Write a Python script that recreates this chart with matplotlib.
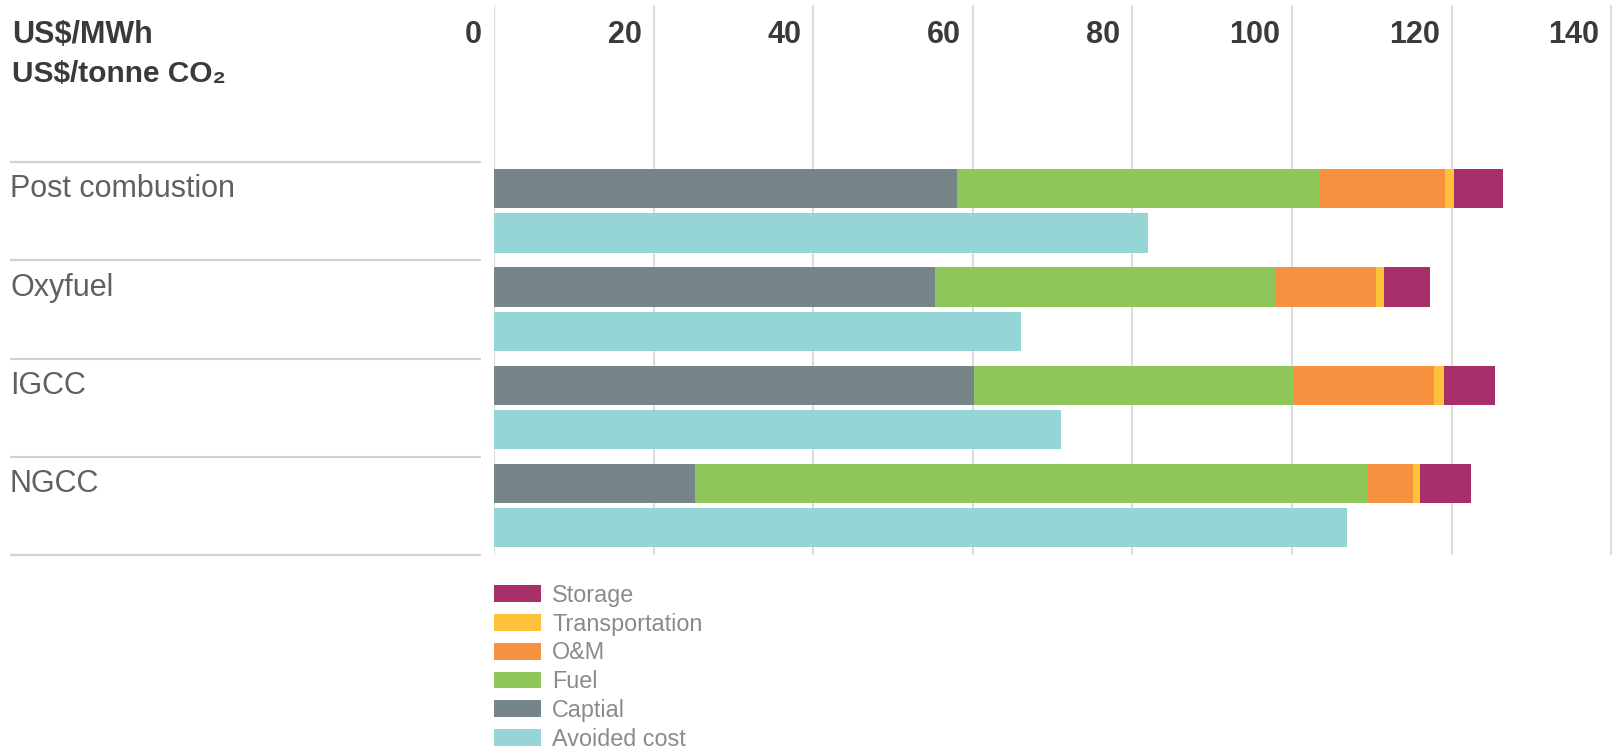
import matplotlib
matplotlib.use("Agg")
import matplotlib.pyplot as plt
import matplotlib.transforms as mtransforms
from matplotlib.patches import Patch
import numpy as np

# ---- data -------------------------------------------------------------
categories = ["Post combustion", "Oxyfuel", "IGCC", "NGCC"]

capital = [58.0, 55.3, 60.1, 25.2]
fuel = [45.5, 42.6, 40.1, 84.3]
om = [15.7, 12.6, 17.6, 5.7]
transportation = [1.1, 1.0, 1.3, 0.8]
storage = [6.1, 5.8, 6.4, 6.4]
avoided_cost = [82.0, 66.0, 71.0, 106.9]

tick_values = [0, 20, 40, 60, 80, 100, 120, 140]
tick_labels = ["0", "20", "40", "60", "80", "100", "120", "140"]

unit_lines = ["US$/MWh", "US$/tonne CO\u2082"]

# ---- style ------------------------------------------------------------
colors = {
    "Storage": "#a8306a",
    "Transportation": "#fdc13a",
    "O&M": "#f5913f",
    "Fuel": "#8fc65a",
    "Captial": "#758589",
    "Avoided cost": "#95d5d6",
}
grid_color = "#dcdcdc"
sep_color = "#d2d2d2"
bold_font = ["Liberation Sans", "DejaVu Sans"]
light_font = ["Liberation Sans", "DejaVu Sans"]

W, H = 1612, 753
fig = plt.figure(figsize=(W / 100, H / 100), dpi=100)
fig.patch.set_facecolor("white")

ax_left, ax_top, ax_bottom = 494, 5, 555
ax = fig.add_axes([ax_left / W, 1 - ax_bottom / H, (W - ax_left) / W,
                   (ax_bottom - ax_top) / H])

# vertical layout in "group" units: group i spans [i, i+1]
pitch_px = 98.25
ax.set_ylim(4.0, (ax_top - 162) / pitch_px)
ax.set_xlim(0, (W - ax_left) / 7.98)

bar_h = 0.40
pos_stack = np.arange(len(categories)) + 0.272
pos_avoid = np.arange(len(categories)) + 0.722

left = np.zeros(len(categories))
for name, vals in [("Captial", capital), ("Fuel", fuel), ("O&M", om),
                   ("Transportation", transportation), ("Storage", storage)]:
    ax.barh(pos_stack, vals, left=left, height=bar_h, color=colors[name],
            edgecolor="none", zorder=3)
    left = left + np.array(vals)
ax.barh(pos_avoid, avoided_cost, height=bar_h, color=colors["Avoided cost"],
        edgecolor="none", zorder=3)

# grid and axis styling
ax.set_xticks(tick_values)
ax.set_xticklabels([])
ax.set_yticks([])
ax.tick_params(axis="x", length=0)
ax.grid(axis="x", color=grid_color, linewidth=1.5, zorder=0)
for s in ax.spines.values():
    s.set_visible(False)
ax.set_facecolor("none")

for t, lab in zip(tick_values, tick_labels):
    ax.annotate(lab, xy=(t, 1), xycoords=("data", "axes fraction"),
                xytext=(-12, -38), textcoords="offset pixels",
                ha="right", va="baseline", fontsize=22, fontweight="bold",
                color="#3a3a3a", family=bold_font, annotation_clip=False)

# category separators and labels on the left
blend = mtransforms.blended_transform_factory(fig.transFigure, ax.transData)
for i in range(len(categories) + 1):
    ax.plot([10 / W, 481 / W], [i, i], transform=blend, color=sep_color,
            linewidth=1.6, clip_on=False, solid_capstyle="butt")
for i, cat in enumerate(categories):
    ax.text(10 / W, i + 0.361, cat, transform=blend, ha="left",
            va="baseline", fontsize=22, color="#606060", family=light_font)

# unit header
fig.text(12 / W, 1 - 43.3 / H, unit_lines[0], ha="left", va="baseline",
         fontsize=22, fontweight="bold", color="#3a3a3a", family=bold_font)
fig.text(12 / W, 1 - 81.7 / H, unit_lines[1], ha="left", va="baseline",
         fontsize=21.5, fontweight="bold", color="#3a3a3a", family=bold_font)

# legend
legend_order = ["Storage", "Transportation", "O&M", "Fuel", "Captial",
                "Avoided cost"]
handles = [Patch(facecolor=colors[n], edgecolor="none") for n in legend_order]
leg = fig.legend(handles, legend_order, loc="upper left",
                 bbox_to_anchor=(494 / W, 1 - 584 / H), frameon=False,
                 borderpad=0, borderaxespad=0,
                 handlelength=2.0, handleheight=0.74, handletextpad=0.5,
                 labelspacing=0.245, prop={"family": light_font, "size": 16.8})
for txt in leg.get_texts():
    txt.set_color("#8a8a8a")

fig.savefig("out.png", dpi=100, facecolor="white")
